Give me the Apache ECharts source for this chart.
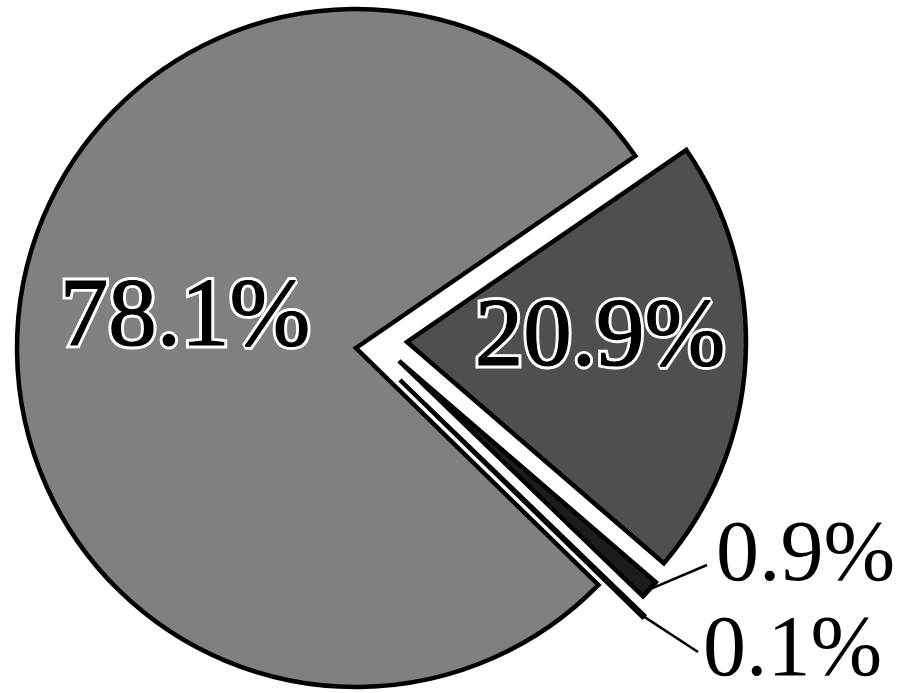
<!DOCTYPE html>
<html>
<head>
<meta charset="utf-8">
<script src="https://cdn.jsdelivr.net/npm/echarts@6/dist/echarts.min.js"></script>
<style>
  html, body { margin: 0; padding: 0; background: #fff; }
  #chart { width: 911px; height: 693px; }
</style>
</head>
<body>
<div id="chart"></div>
<script>
// Share of each component (%)
const shares = [20.9, 0.9, 0.1, 78.1];
const sliceColors = ['#4f4f4f', '#1c1c1c', '#050505', '#808080'];

// Each slice is drawn in its own pie series so it can be pulled out by its own amount
const sliceCenters = [[407, 342], [399, 361], [400, 380], [356, 348]];
const pieRadius = 339;
// Label anchors (x, y) for each slice
const labelSpots = [[600, 340], [716, 557], [703, 652], [185, 320]];
// Leader line end, relative to the label anchor
const leaderEnds = [null, [-9, 8], [-5, 0], null];
const inside = [true, false, false, true];

const serif = '"Liberation Serif", "Times New Roman", serif';

function hidden(v, i) {
  return {
    value: v, name: 'p' + i,
    itemStyle: { color: 'rgba(0,0,0,0)', borderWidth: 0 },
    label: { show: false }, labelLine: { show: false }
  };
}

function baseSeries(k, extra) {
  return Object.assign({
    type: 'pie',
    center: sliceCenters[k],
    radius: [0, pieRadius],
    startAngle: 34.5,
    clockwise: true,
    animation: false,
    silent: true,
    avoidLabelOverlap: false,
    minShowLabelAngle: 0,
    emphasis: { disabled: true },
    labelLayout: function (p) {
      if (p.dataIndex !== k) return {};
      const x = labelSpots[k][0], y = labelSpots[k][1];
      const out = {
        x: x, y: y,
        align: inside[k] ? 'center' : 'left',
        verticalAlign: 'middle'
      };
      if (!inside[k] && p.labelLinePoints) {
        const a = p.labelLinePoints[0];
        const e = [x + leaderEnds[k][0], y + leaderEnds[k][1]];
        out.labelLinePoints = [a, a, e];
      }
      return out;
    }
  }, extra);
}

const series = [];

// Slices (with outside labels for the thin ones, haloed labels for the big ones)
shares.forEach(function (_, k) {
  series.push(baseSeries(k, {
    z: k === 3 ? 1 : 2,
    data: shares.map(function (v, i) {
      if (i !== k) return hidden(v, i);
      return {
        value: v, name: 'p' + i,
        itemStyle: {
          color: sliceColors[i],
          borderColor: '#000',
          borderWidth: 4.5,
          borderJoin: 'miter'
        },
        label: inside[i] ? {
          show: true,
          position: 'inside',
          formatter: v.toFixed(1) + '%',
          fontFamily: serif,
          fontSize: 97,
          color: '#000',
          textBorderColor: '#fff',
          textBorderWidth: 7
        } : {
          show: true,
          position: 'outside',
          formatter: v.toFixed(1) + '%',
          fontFamily: serif,
          fontSize: 86,
          color: '#000'
        },
        labelLine: inside[i] ? { show: false } : {
          show: true,
          length: 10,
          length2: 20,
          lineStyle: { color: '#000', width: 2.5 }
        }
      };
    })
  }));
});

// Solid black glyphs laid over the white halo of the inside labels
[0, 3].forEach(function (k) {
  series.push(baseSeries(k, {
    z: 5,
    data: shares.map(function (v, i) {
      if (i !== k) return hidden(v, i);
      return {
        value: v, name: 'p' + i,
        itemStyle: { color: 'rgba(0,0,0,0)', borderWidth: 0 },
        label: {
          show: true,
          position: 'inside',
          formatter: v.toFixed(1) + '%',
          fontFamily: serif,
          fontSize: 97,
          color: '#000',
          textBorderColor: '#000',
          textBorderWidth: 1.2
        },
        labelLine: { show: false }
      };
    })
  }));
});

const chart = echarts.init(document.getElementById('chart'), null, { renderer: 'canvas' });
chart.setOption({
  backgroundColor: '#fff',
  series: series
});
</script>
</body>
</html>
